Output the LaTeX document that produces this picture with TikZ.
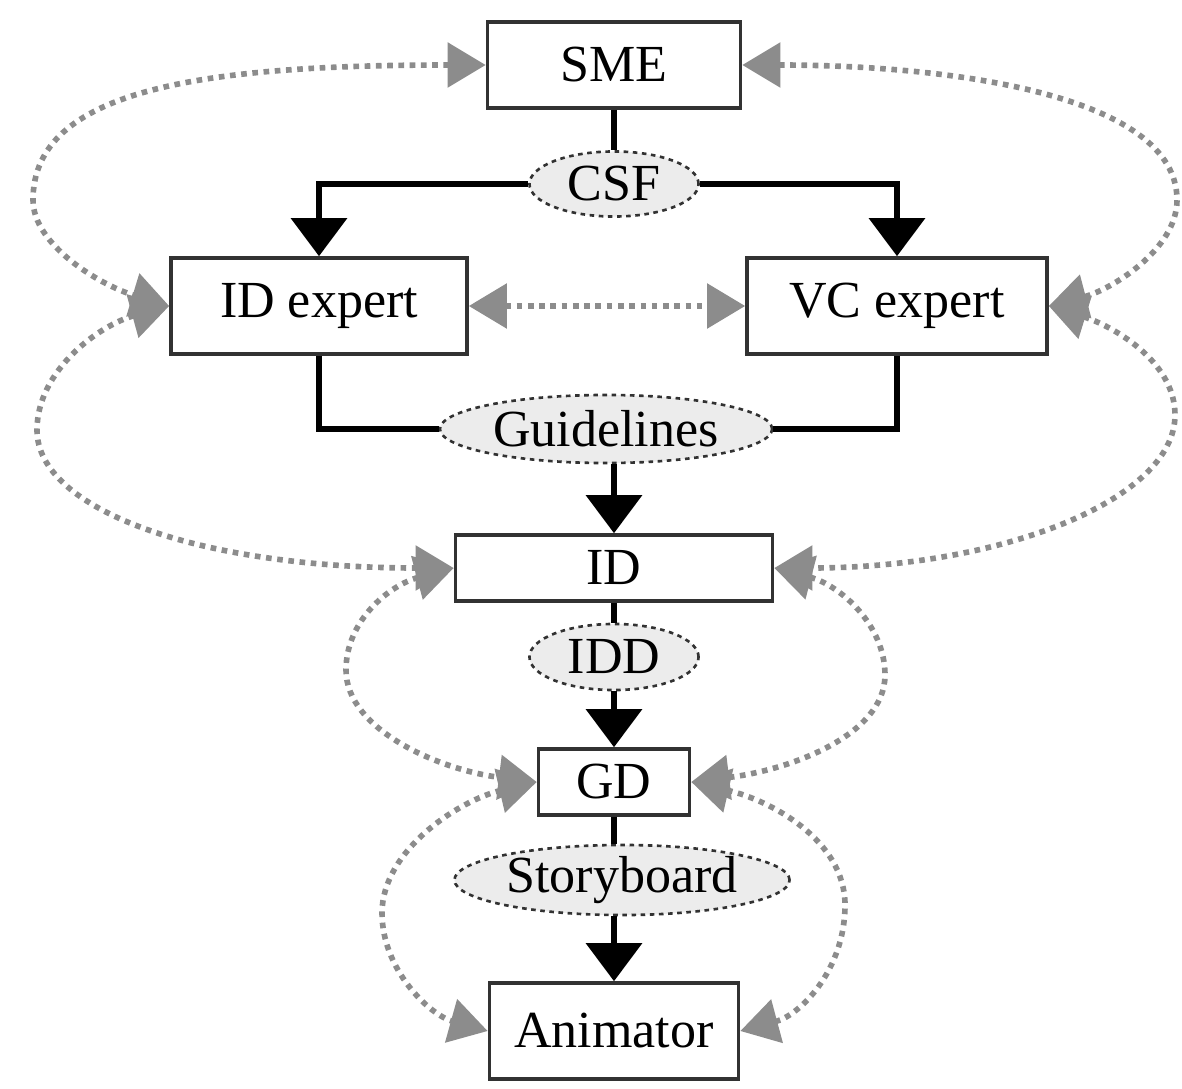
\documentclass[tikz,border=0pt]{standalone}
\usepackage{fontspec}
\setmainfont{Liberation Serif}
\usetikzlibrary{arrows.meta,shapes.geometric}
\definecolor{dotgray}{RGB}{140,140,140}
\definecolor{boxline}{RGB}{50,50,50}
\definecolor{ellfill}{RGB}{236,236,236}
\begin{document}
\begin{tikzpicture}[x=0.01cm,y=-0.01cm,
  every node/.style={font=\fontsize{14.8}{17}\selectfont, inner sep=0pt},
  box/.style={rectangle, draw=boxline, line width=1pt, fill=white},
  ell/.style={ellipse, draw=boxline, line width=0.75pt, dash pattern=on 1.3pt off 1.3pt, fill=ellfill},
  gdot/.style={draw=dotgray, line width=1.6pt, dash pattern=on 1.6pt off 1.6pt,
     >={Triangle[length=3.8mm,width=4.4mm]}, <->},
  blk/.style={draw=black, line width=1.8pt, >={Triangle[length=3.8mm,width=5.5mm]}}
]
\useasboundingbox (0,0) rectangle (1182,1088);

% nodes
\node[box, minimum width=2.53cm, minimum height=0.86cm] (SME) at (614,65) {SME};
\node[ell, minimum width=1.69cm, minimum height=0.65cm] (CSF) at (614,184) {CSF};
\node[box, minimum width=2.96cm, minimum height=0.96cm] (IDexp) at (319,306) {ID expert};
\node[box, minimum width=3.00cm, minimum height=0.96cm] (VCexp) at (897,306) {VC expert};
\node[ell, minimum width=3.32cm, minimum height=0.68cm] (Guide) at (606,429) {Guidelines};
\node[box, minimum width=3.17cm, minimum height=0.66cm] (ID) at (614,568) {ID};
\node[ell, minimum width=1.69cm, minimum height=0.66cm] (IDD) at (614,657) {IDD};
\node[box, minimum width=1.51cm, minimum height=0.66cm] (GD) at (614,782) {GD};
\node[ell, minimum width=3.35cm, minimum height=0.70cm] (Story) at (622,880) {Storyboard};
\node[box, minimum width=2.49cm, minimum height=0.96cm] (Anim) at (614,1031) {Animator};

% black flow
\draw[blk] (SME.south) -- (CSF.north);
\draw[blk,->] (CSF.west) -| (IDexp.north);
\draw[blk,->] (CSF.east) -| (VCexp.north);
\draw[blk] (IDexp.south) |- (Guide.west);
\draw[blk] (VCexp.south) |- (Guide.east);
\draw[blk,->] (Guide.south -| ID.north) -- (ID.north);
\draw[blk] (ID.south) -- (IDD.north);
\draw[blk,->] (IDD.south) -- (GD.north);
\draw[blk] (GD.south) -- (GD.south |- Story.north);
\draw[blk,->] (Story.south -| Anim.north) -- (Anim.north);

% gray dotted feedback
\draw[gdot] (SME.west) .. controls (200,65) and (33,90) .. (33,200) .. controls (33,245) and (100,285) .. (IDexp.west);
\draw[gdot] (IDexp.west) .. controls (100,325) and (37,370) .. (37,430) .. controls (37,510) and (200,568) .. (ID.west);
\draw[gdot] (SME.east) .. controls (950,65) and (1177,95) .. (1177,200) .. controls (1177,250) and (1110,290) .. (VCexp.east);
\draw[gdot] (VCexp.east) .. controls (1110,325) and (1175,360) .. (1175,415) .. controls (1175,500) and (1000,568) .. (ID.east);
\draw[gdot] (IDexp.east) -- (VCexp.west);
\draw[gdot] (ID.west) .. controls (390,585) and (346,620) .. (346,670) .. controls (346,730) and (440,770) .. (GD.west);
\draw[gdot] (ID.east) .. controls (840,585) and (885,625) .. (885,675) .. controls (885,735) and (790,770) .. (GD.east);
\draw[gdot] (GD.west) .. controls (460,800) and (382,850) .. (382,913) .. controls (382,970) and (430,1015) .. (Anim.west);
\draw[gdot] (GD.east) .. controls (770,800) and (845,840) .. (845,905) .. controls (845,970) and (800,1015) .. (Anim.east);
\end{tikzpicture}
\end{document}
